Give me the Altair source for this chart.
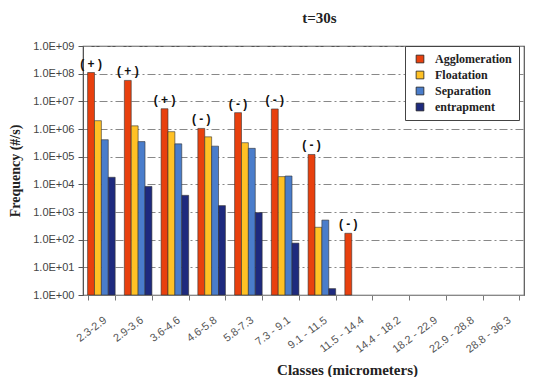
import altair as alt
import pandas as pd

classes = ["2.3-2.9", "2.9-3.6", "3.6-4.6", "4.6-5.8", "5.8-7.3", "7.3 - 9.1",
           "9.1 - 11.5", "11.5 - 14.4", "14.4 - 18.2", "18.2 - 22.9",
           "22.9 - 28.8", "28.8 - 36.3"]
series_order = ["Agglomeration", "Floatation", "Separation", "entrapment"]
colors = ["#E8400E", "#FFC125", "#4A7DCB", "#1E2A7E"]

agglomeration = [1.1e8, 5.7e7, 5.4e6, 1.05e6, 3.9e6, 5.3e6, 1.2e5, 1.7e2, None, None, None, None]
floatation = [2.0e6, 1.3e6, 8.0e5, 5.2e5, 3.2e5, 1.9e4, 2.8e2, None, None, None, None, None]
separation = [4.1e5, 3.5e5, 2.9e5, 2.4e5, 2.0e5, 2.0e4, 5.1e2, None, None, None, None, None]
entrapment = [1.8e4, 8.4e3, 4.0e3, 1.7e3, 9.5e2, 7.5e1, 1.7, None, None, None, None, None]
signs = ["( + )", "( + )", "( + )", "( - )", "( - )", "( - )", "( - )", "( - )", "", "", "", ""]

rows = []
for name, vals in zip(series_order, [agglomeration, floatation, separation, entrapment]):
    for c, v in zip(classes, vals):
        if v is not None:
            rows.append({"Class": c, "Series": name, "Frequency": v})
df = pd.DataFrame(rows)

lab_rows = []
for c, v, s in zip(classes, agglomeration, signs):
    if v is not None and s:
        lab_rows.append({"Class": c, "Series": "Agglomeration", "Frequency": v, "Sign": s})
labels = pd.DataFrame(lab_rows)

serif = "Liberation Serif"
sans = "Liberation Sans"

x = alt.X("Class:N", sort=classes,
          scale=alt.Scale(domain=classes, paddingInner=0.25, paddingOuter=0.125),
          axis=alt.Axis(title="Classes (micrometers)", labelAngle=-37, tickBand="extent",
                        labelFont=sans, labelFontSize=11, labelColor="#555",
                        labelAlign="right", labelBaseline="top",
                        labelPadding=14, tickSize=5, tickColor="#777", domainColor="#888",
                        titleFont=serif, titleFontSize=15, titleFontWeight="bold",
                        titleColor="#222", titleX=264, titleY=79,
                        titleBaseline="alphabetic", titleAlign="center"))
y = alt.Y("Frequency:Q",
          scale=alt.Scale(type="log", domain=[1, 1e9]),
          axis=alt.Axis(title="Frequency  (#/s)", values=[10 ** i for i in range(10)],
                        labelExpr="'1.0E+0' + round(log(datum.value) / LN10)",
                        labelFont=sans, labelFontSize=11, labelColor="#444",
                        labelPadding=4, tickSize=5, tickColor="#555", domainColor="#555",
                        grid=True, gridDash=[8, 3, 2, 3], gridColor="#888", gridWidth=1.2,
                        titleFont=serif, titleFontSize=14, titleFontWeight="bold",
                        titleColor="#222", titleX=-68, titleY=124.5, titleAngle=-90,
                        titleAlign="center", titleBaseline="middle"))

bars = alt.Chart(df).mark_bar(stroke="#333", strokeWidth=0.6).encode(
    x=x,
    xOffset=alt.XOffset("Series:N", sort=series_order,
                        scale=alt.Scale(domain=series_order, paddingInner=0, paddingOuter=0)),
    y=y,
    y2=alt.datum(1),
    color=alt.Color("Series:N", sort=series_order,
                    scale=alt.Scale(domain=series_order, range=colors),
                    legend=alt.Legend(title=None, orient="none", legendX=322, legendY=0,
                                      symbolType="square", symbolSize=60,
                                      symbolStrokeColor="#222", symbolStrokeWidth=0.8,
                                      labelFont=serif, labelFontSize=12, labelFontWeight="bold",
                                      labelColor="#222", labelOffset=9,
                                      labelExpr="datum.label + '\u00a0\u00a0\u00a0\u00a0\u00a0\u00a0\u00a0\u00a0\u00a0\u00a0\u00a0\u00a0\u00a0\u00a0\u00a0\u00a0\u00a0\u00a0'",
                                      rowPadding=4, padding=7, strokeColor="#444",
                                      fillColor="white", symbolOffset=2)),
)

text = alt.Chart(labels).mark_text(font=sans, fontSize=12, fontWeight="bold",
                                   color="#111", dy=-9).encode(
    x=alt.X("Class:N", sort=classes),
    xOffset=alt.XOffset("Series:N", sort=series_order),
    y=alt.Y("Frequency:Q"),
    text="Sign:N",
)

chart = (bars + text).properties(
    width=441, height=249,
    padding={"left": 75, "top": 38, "right": 2, "bottom": 82},
    autosize=alt.AutoSizeParams(type="none"),
    title=alt.Title("t=30s", font=serif, fontSize=15, fontWeight="bold", color="#222",
                    frame="group", anchor="middle", dx=16, offset=14),
).configure_view(stroke="#555", strokeWidth=1.2)

chart.save("out.html", embed_options={"renderer": "svg", "actions": False})
